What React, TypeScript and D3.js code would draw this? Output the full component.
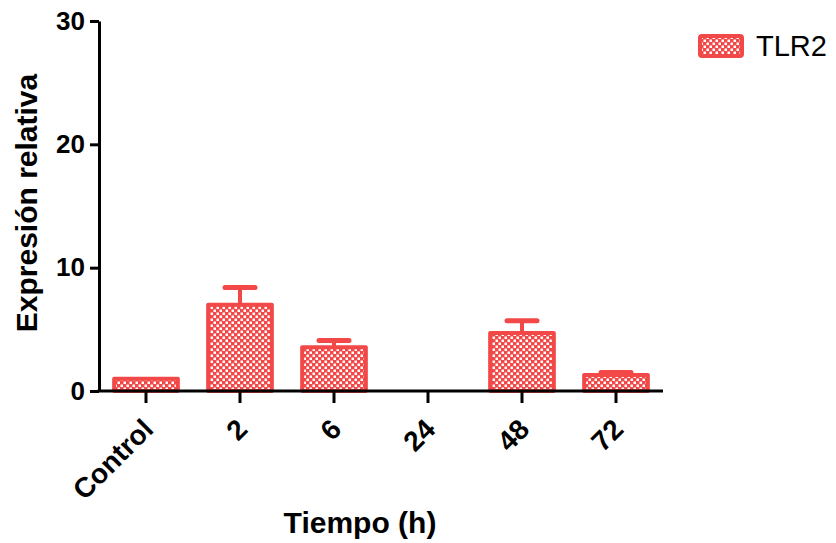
import { useEffect, useRef } from "react"
import * as d3 from "d3"

const categories = ["Control", "2", "6", "24", "48", "72"]
const means = [1.0, 7.0, 3.55, 0, 4.7, 1.3]
const errors = [0, 1.4, 0.55, 0, 1.0, 0.2]
const yTicks = [0, 10, 20, 30]
const seriesName = "TLR2"

const RED = "#f24848"

export default function App() {
  const svgRef = useRef<SVGSVGElement | null>(null)

  useEffect(() => {
    if (!svgRef.current) return
    const root = d3.select(svgRef.current)
    root.selectAll("*").remove()

    const width = 836
    const height = 543
    const margin = { top: 21, right: 173, bottom: 152, left: 99 }
    const innerW = width - margin.left - margin.right
    const innerH = height - margin.top - margin.bottom

    // checkered fill
    const defs = root.append("defs")
    const pat = defs
      .append("pattern")
      .attr("id", "checker")
      .attr("patternUnits", "userSpaceOnUse")
      .attr("width", 6)
      .attr("height", 6)
    pat.append("rect").attr("width", 6).attr("height", 6).attr("fill", RED)
    pat.append("rect").attr("x", 0.5).attr("y", 0.5).attr("width", 2.5).attr("height", 2.5).attr("fill", "white")
    pat.append("rect").attr("x", 3.5).attr("y", 3.5).attr("width", 2.5).attr("height", 2.5).attr("fill", "white")

    const g = root.append("g").attr("transform", `translate(${margin.left},${margin.top})`)

    const x = d3.scaleBand().domain(categories).range([0, innerW]).paddingInner(0.28).paddingOuter(0.14)
    const y = d3.scaleLinear().domain([0, 30]).range([innerH, 0])

    const font = "'Liberation Sans', Arial, sans-serif"

    const data = categories.map((c, i) => ({ c, v: means[i], e: errors[i] }))

    // error bars (behind bars)
    data
      .filter((d) => d.e > 0)
      .forEach((d) => {
        const cx = (x(d.c) as number) + x.bandwidth() / 2
        g.append("line")
          .attr("x1", cx)
          .attr("x2", cx)
          .attr("y1", y(d.v))
          .attr("y2", y(d.v + d.e))
          .attr("stroke", RED)
          .attr("stroke-width", 4)
        g.append("line")
          .attr("x1", cx - 15)
          .attr("x2", cx + 15)
          .attr("y1", y(d.v + d.e))
          .attr("y2", y(d.v + d.e))
          .attr("stroke", RED)
          .attr("stroke-width", 5)
          .attr("stroke-linecap", "round")
      })

    g.selectAll(".bar")
      .data(data.filter((d) => d.v > 0))
      .enter()
      .append("rect")
      .attr("class", "bar")
      .attr("x", (d) => (x(d.c) as number) + 2)
      .attr("y", (d) => y(d.v))
      .attr("width", x.bandwidth() - 4)
      .attr("height", (d) => innerH - y(d.v))
      .attr("fill", "url(#checker)")
      .attr("stroke", RED)
      .attr("stroke-width", 4)
      .attr("stroke-linejoin", "round")

    // y axis
    const yAxis = g
      .append("g")
      .call(d3.axisLeft(y).tickValues(yTicks).tickSize(9).tickSizeOuter(0).tickPadding(5))
    yAxis.select(".domain").attr("stroke", "black").attr("stroke-width", 3)
    yAxis.selectAll(".tick line").attr("stroke", "black").attr("stroke-width", 3)
    yAxis
      .selectAll(".tick text")
      .attr("font-family", font)
      .attr("font-size", 26)
      .attr("font-weight", "bold")
      .attr("fill", "black")

    // x axis
    const xAxis = g
      .append("g")
      .attr("transform", `translate(0,${innerH})`)
      .call(d3.axisBottom(x).tickSize(12).tickSizeOuter(0).tickPadding(6))
    xAxis.select(".domain").attr("stroke", "black").attr("stroke-width", 3).attr("d", `M-1.5,0H${innerW}`)
    xAxis.selectAll(".tick line").attr("stroke", "black").attr("stroke-width", 3)
    xAxis
      .selectAll(".tick text")
      .attr("font-family", font)
      .attr("font-size", 28)
      .attr("font-weight", "bold")
      .attr("fill", "black")
      .attr("text-anchor", "end")
      .attr("dy", "0.35em")
      .attr("transform", "translate(2,33) rotate(-45)")
      .attr("y", 0)
      .attr("x", 0)

    // axis titles
    root
      .append("text")
      .attr("transform", `translate(37,203) rotate(-90)`)
      .attr("text-anchor", "middle")
      .attr("font-family", font)
      .attr("font-size", 30)
      .attr("font-weight", "bold")
      .text("Expresión relativa")

    root
      .append("text")
      .attr("x", 360)
      .attr("y", 533)
      .attr("text-anchor", "middle")
      .attr("font-family", font)
      .attr("font-size", 30)
      .attr("font-weight", "bold")
      .text("Tiempo (h)")

    // legend
    const lg = root.append("g").attr("transform", "translate(700,36)")
    lg.append("rect")
      .attr("width", 42)
      .attr("height", 20)
      .attr("rx", 2)
      .attr("fill", "url(#checker)")
      .attr("stroke", RED)
      .attr("stroke-width", 4)
    lg.append("text")
      .attr("x", 56)
      .attr("y", 20)
      .attr("font-family", font)
      .attr("font-size", 29)
      .attr("fill", "black")
      .text(seriesName)
  }, [])

  return (
    <svg
      ref={svgRef}
      width={836}
      height={543}
      style={{ position: "absolute", left: 0, top: 0, background: "white" }}
    ></svg>
  )
}
